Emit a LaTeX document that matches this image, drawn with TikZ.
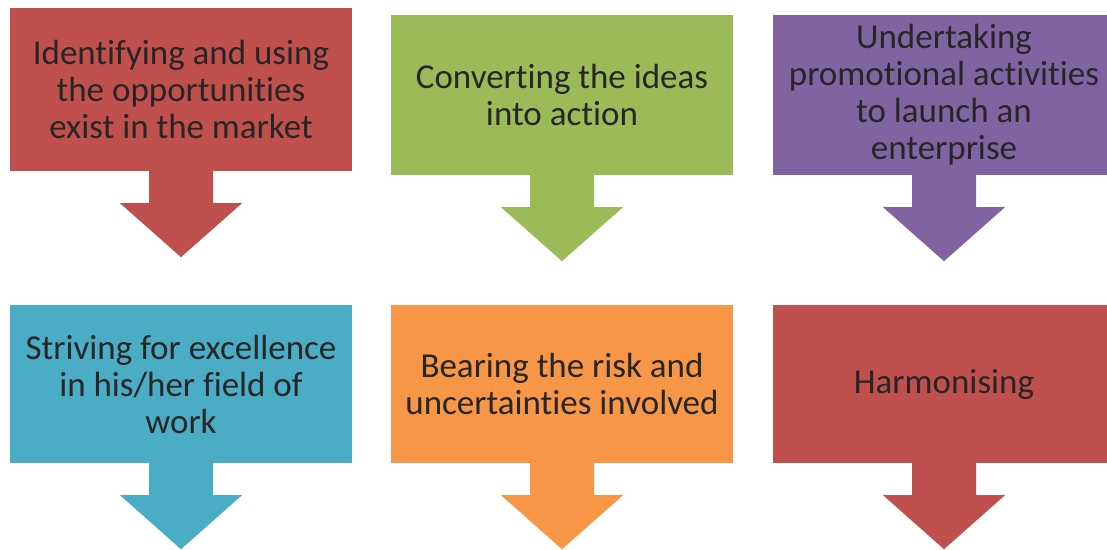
\documentclass[tikz,border=0pt]{standalone}
\usepackage{fontspec}
\setmainfont{Carlito}[Ligatures=NoCommon]
\definecolor{boxred}{HTML}{C0504D}
\definecolor{boxgreen}{HTML}{9BBB59}
\definecolor{boxpurple}{HTML}{8064A2}
\definecolor{boxblue}{HTML}{4BACC6}
\definecolor{boxorange}{HTML}{F79646}
\tikzset{
  stepbox/.style={rectangle, minimum width=342pt, minimum height=160pt, inner sep=0pt,
    align=center, font=\fontsize{35}{37}\selectfont, text=black!85},
}

\begin{document}
\begin{tikzpicture}[x=1pt,y=-1pt]
    \useasboundingbox (0,0) rectangle (1107,549);
    \clip (0,0) rectangle (1107,549);
    % Boxes
    \node[stepbox, fill=boxred, minimum height=163pt] (ident) at (181,89.5) {Identifying and using\\the opportunities\\exist in the market};
    \node[stepbox, fill=boxgreen] (convert) at (562,95) {Converting the ideas\\into action};
    \node[stepbox, fill=boxpurple] (promote) at (944,95) {Undertaking\\promotional activities\\to launch an\\enterprise};
    \node[stepbox, fill=boxblue, minimum height=158pt] (strive) at (181,384) {Striving for excellence\\in his/her field of\\work};
    \node[stepbox, fill=boxorange, minimum height=158pt] (risk) at (562,384) {Bearing the risk and\\uncertainties involved};
    \node[stepbox, fill=boxred, minimum height=158pt] (harmon) at (944,384) {Harmonising};
    % Down arrows
    \foreach \n/\c in {ident/boxred, convert/boxgreen, promote/boxpurple, strive/boxblue, risk/boxorange, harmon/boxred}
        \fill[\c] ([yshift=1pt]\n.south) ++(-32,0) -- ++(0,33) -- ++(-29,0) -- ++(61,54) -- ++(61,-54) -- ++(-29,0) -- ++(0,-33) -- cycle;
\end{tikzpicture}
\end{document}
